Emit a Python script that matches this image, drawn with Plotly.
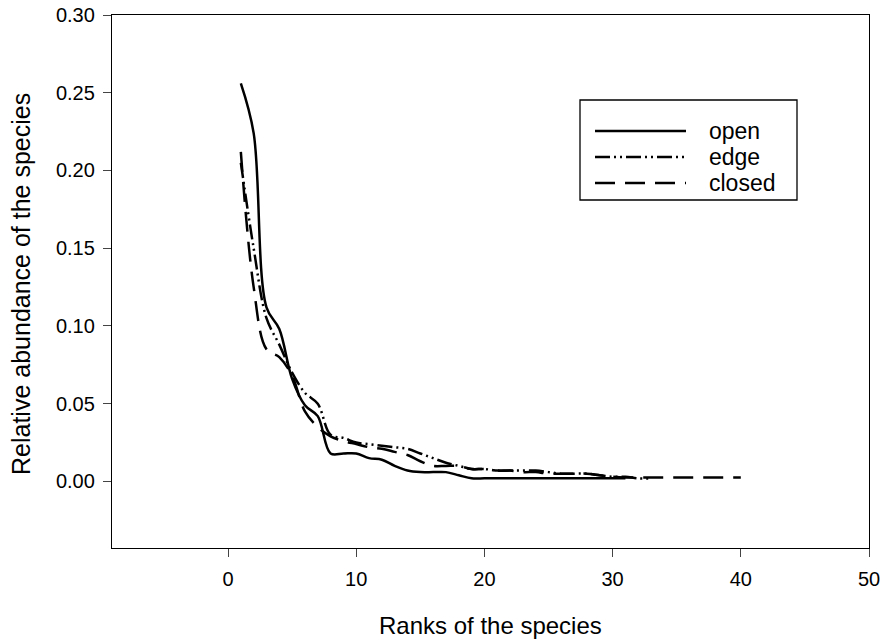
import plotly.graph_objects as go

# ---- data ----
open_rank = list(range(1, 32))
open_vals = [0.256, 0.224, 0.112, 0.098, 0.066, 0.049, 0.042, 0.018, 0.018, 0.018,
             0.015, 0.014, 0.010, 0.007, 0.006, 0.006, 0.006, 0.004, 0.002, 0.002,
             0.002, 0.002, 0.002, 0.002, 0.002, 0.002, 0.002, 0.002, 0.002, 0.002, 0.002]

edge_rank = list(range(1, 34))
edge_vals = [0.205, 0.150, 0.105, 0.088, 0.070, 0.057, 0.050, 0.030, 0.028, 0.025,
             0.024, 0.023, 0.022, 0.021, 0.018, 0.015, 0.012, 0.010, 0.008, 0.008,
             0.007, 0.007, 0.007, 0.007, 0.006, 0.005, 0.005, 0.005, 0.004, 0.003,
             0.003, 0.002, 0.002]

closed_rank = list(range(1, 41))
closed_vals = [0.212, 0.125, 0.085, 0.080, 0.068, 0.045, 0.035, 0.029, 0.026, 0.024,
               0.022, 0.021, 0.019, 0.017, 0.013, 0.010, 0.010, 0.010, 0.008, 0.008,
               0.007, 0.007, 0.006, 0.006, 0.005, 0.005, 0.005, 0.005, 0.004, 0.003,
               0.0025, 0.0025, 0.0025, 0.0025, 0.0025, 0.0025, 0.0025, 0.0025, 0.0025, 0.0025]

series_names = ["open", "edge", "closed"]
x_ticks = [0, 10, 20, 30, 40, 50]
y_ticks = [0.00, 0.05, 0.10, 0.15, 0.20, 0.25, 0.30]

DASH = {"open": "solid", "edge": "15px,4px,2px,4px,2px,4px", "closed": "20px,10px"}
FONT = "Liberation Sans, Arial, sans-serif"

fig = go.Figure()
for name, xs, ys in [("open", open_rank, open_vals),
                     ("edge", edge_rank, edge_vals),
                     ("closed", closed_rank, closed_vals)]:
    fig.add_trace(go.Scatter(x=xs, y=ys, mode="lines", name=name,
                             line=dict(color="black", width=2.5, dash=DASH[name],
                                       shape="spline", smoothing=1.0),
                             showlegend=False))

fig.update_layout(
    width=884, height=643,
    margin=dict(l=112, r=15, t=15, b=95),
    paper_bgcolor="white", plot_bgcolor="white",
    font=dict(family=FONT, size=20, color="black"),
    xaxis=dict(range=[-9.05, 50], tickvals=x_ticks, ticks="outside", ticklen=8,
               tickwidth=1, showline=True, linecolor="black", linewidth=1.3,
               mirror=True, showgrid=False, zeroline=False, automargin=False,
               tickfont=dict(size=20), ticklabelstandoff=5),
    yaxis=dict(range=[-0.0428, 0.30], tickvals=y_ticks, tickformat=".2f",
               ticks="outside", ticklen=8, tickwidth=1, showline=True,
               linecolor="black", linewidth=1.3, mirror=True, showgrid=False,
               zeroline=False, automargin=False, tickfont=dict(size=20),
               ticklabelstandoff=4),
)

# axis titles
fig.add_annotation(text="Ranks of the species", xref="paper", yref="paper",
                   x=(490 - 112) / 757, y=(548 - 625) / 533, showarrow=False,
                   font=dict(size=24), xanchor="center", yanchor="middle")
fig.add_annotation(text="Relative abundance of the species", xref="paper", yref="paper",
                   x=(21 - 112) / 757, y=(548 - 284) / 533, showarrow=False,
                   textangle=-90, font=dict(size=25), xanchor="center", yanchor="middle")

# legend (drawn as a box with line samples)
def px(xp):
    return (xp - 112) / 757

def py(yp):
    return (548 - yp) / 533

fig.add_shape(type="rect", xref="paper", yref="paper",
              x0=px(580), x1=px(797), y0=py(200), y1=py(100),
              line=dict(color="black", width=1.3), fillcolor="white", layer="above")
for name, yrow in zip(series_names, [131, 157, 183]):
    fig.add_shape(type="line", xref="paper", yref="paper",
                  x0=px(595), x1=px(686), y0=py(yrow), y1=py(yrow),
                  line=dict(color="black", width=2.5, dash=DASH[name]), layer="above")
    fig.add_annotation(text=name, xref="paper", yref="paper", x=px(707), y=py(yrow),
                       showarrow=False, xanchor="left", yanchor="middle",
                       font=dict(size=23))

fig.write_html("out.html")
